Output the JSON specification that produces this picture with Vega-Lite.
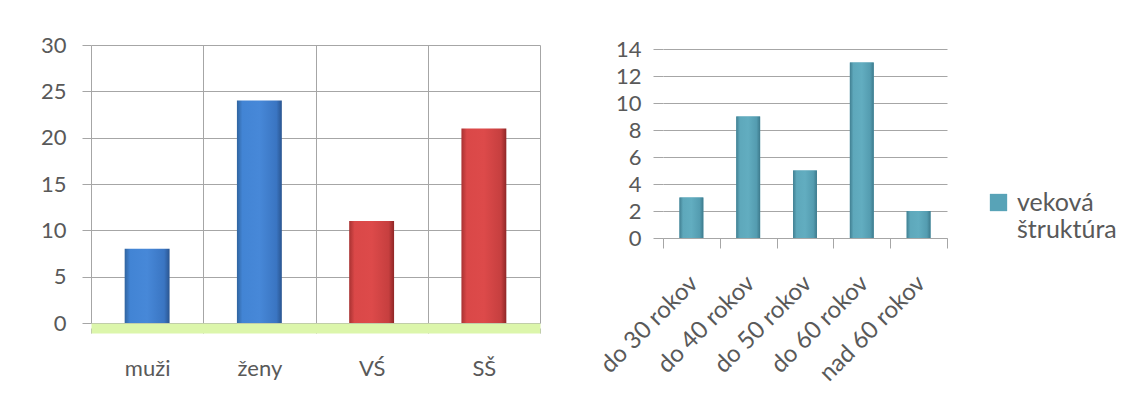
{
  "$schema": "https://vega.github.io/schema/vega-lite/v6.json",
  "background": "white",
  "padding": {"left": 40, "top": 34, "right": 0, "bottom": 0},
  "spacing": 55,
  "config": {
    "view": {"stroke": null},
    "font": "Lato",
    "axis": {"labelFont": "Lato", "labelColor": "#595959", "title": null}
  },
  "hconcat": [
    {
      "width": 449,
      "height": 278,
      "data": {"values": [
        {"kategoria": "muži", "pocet": 8, "skupina": "pohlavie"},
        {"kategoria": "ženy", "pocet": 24, "skupina": "pohlavie"},
        {"kategoria": "VŚ", "pocet": 11, "skupina": "vzdelanie"},
        {"kategoria": "SŠ", "pocet": 21, "skupina": "vzdelanie"}
      ]},
      "encoding": {
        "x": {
          "field": "kategoria", "type": "nominal", "sort": null,
          "scale": {"paddingInner": 0, "paddingOuter": 0},
          "axis": {
            "labelAngle": 0, "tickBand": "extent", "grid": true, "gridColor": "#a6a6a6",
            "tickSize": 5, "tickColor": "#a6a6a6", "domainColor": "#dcf6ab", "domainWidth": 10,
            "offset": 5, "labelFontSize": 22, "labelPadding": 25
          }
        },
        "y": {
          "field": "pocet", "type": "quantitative",
          "scale": {"domain": [0, 30]},
          "axis": {
            "values": [0, 5, 10, 15, 20, 25, 30], "grid": true, "gridColor": "#a6a6a6",
            "domain": false, "tickSize": 9, "tickColor": "#a6a6a6", "labelPadding": 16,
            "labelFontSize": 22
          }
        }
      },
      "layer": [
        {
          "transform": [{"filter": "datum.skupina === 'pohlavie'"}],
          "mark": {
            "type": "bar", "width": {"band": 0.4},
            "fill": {"gradient": "linear", "x1": 0, "x2": 1, "y1": 0, "y2": 0,
              "stops": [
                {"offset": 0, "color": "#30649f"},
                {"offset": 0.12, "color": "#4284d4"},
                {"offset": 0.5, "color": "#4788d8"},
                {"offset": 0.88, "color": "#3a75c2"},
                {"offset": 1, "color": "#2a5590"}
              ]}
          }
        },
        {
          "transform": [{"filter": "datum.skupina === 'vzdelanie'"}],
          "mark": {
            "type": "bar", "width": {"band": 0.4},
            "fill": {"gradient": "linear", "x1": 0, "x2": 1, "y1": 0, "y2": 0,
              "stops": [
                {"offset": 0, "color": "#a83232"},
                {"offset": 0.12, "color": "#da4848"},
                {"offset": 0.5, "color": "#dd4a4a"},
                {"offset": 0.88, "color": "#c63f3f"},
                {"offset": 1, "color": "#8f2626"}
              ]}
          }
        }
      ]
    },
    {
      "width": 284,
      "height": 193,
      "data": {"values": [
        {"vek": "do 30 rokov", "pocet": 3, "seria": "veková štruktúra"},
        {"vek": "do 40 rokov", "pocet": 9, "seria": "veková štruktúra"},
        {"vek": "do 50 rokov", "pocet": 5, "seria": "veková štruktúra"},
        {"vek": "do 60 rokov", "pocet": 13, "seria": "veková štruktúra"},
        {"vek": "nad 60 rokov", "pocet": 2, "seria": "veková štruktúra"}
      ]},
      "encoding": {
        "x": {
          "field": "vek", "type": "nominal", "sort": null,
          "scale": {"paddingInner": 0, "paddingOuter": 0},
          "axis": {
            "labelAngle": -45, "tickBand": "extent", "grid": false,
            "tickSize": 10, "tickColor": "#a6a6a6", "domainColor": "#a6a6a6",
            "labelFontSize": 24, "labelPadding": 23, "labelOffset": -6
          }
        },
        "y": {
          "field": "pocet", "type": "quantitative",
          "scale": {"domain": [0, 14.3]},
          "axis": {
            "values": [0, 2, 4, 6, 8, 10, 12, 14], "grid": true, "gridColor": "#a6a6a6",
            "domain": false, "tickSize": 10, "tickColor": "#a6a6a6",
            "labelPadding": 12, "labelFontSize": 22
          }
        }
      },
      "layer": [
        {
          "mark": {"type": "bar", "width": {"band": 0.42}},
          "encoding": {
            "color": {
              "field": "seria", "type": "nominal",
              "scale": {"range": ["#58a3b7"]},
              "legend": {
                "title": null, "orient": "none", "legendX": 895, "legendY": 145,
                "symbolType": "square", "symbolSize": 300, "symbolStrokeWidth": 0,
                "labelFont": "Lato", "labelFontSize": 25, "labelColor": "#595959",
                "labelExpr": "split(datum.label, ' ')", "labelLimit": 300, "labelOffset": 6
              }
            }
          }
        },
        {
          "mark": {
            "type": "bar", "width": {"band": 0.42},
            "fill": {"gradient": "linear", "x1": 0, "x2": 1, "y1": 0, "y2": 0,
              "stops": [
                {"offset": 0, "color": "#417f91"},
                {"offset": 0.15, "color": "#5ea8bb"},
                {"offset": 0.5, "color": "#62adc0"},
                {"offset": 0.85, "color": "#549cb0"},
                {"offset": 1, "color": "#3d7a8c"}
              ]}
          }
        }
      ]
    }
  ]
}
